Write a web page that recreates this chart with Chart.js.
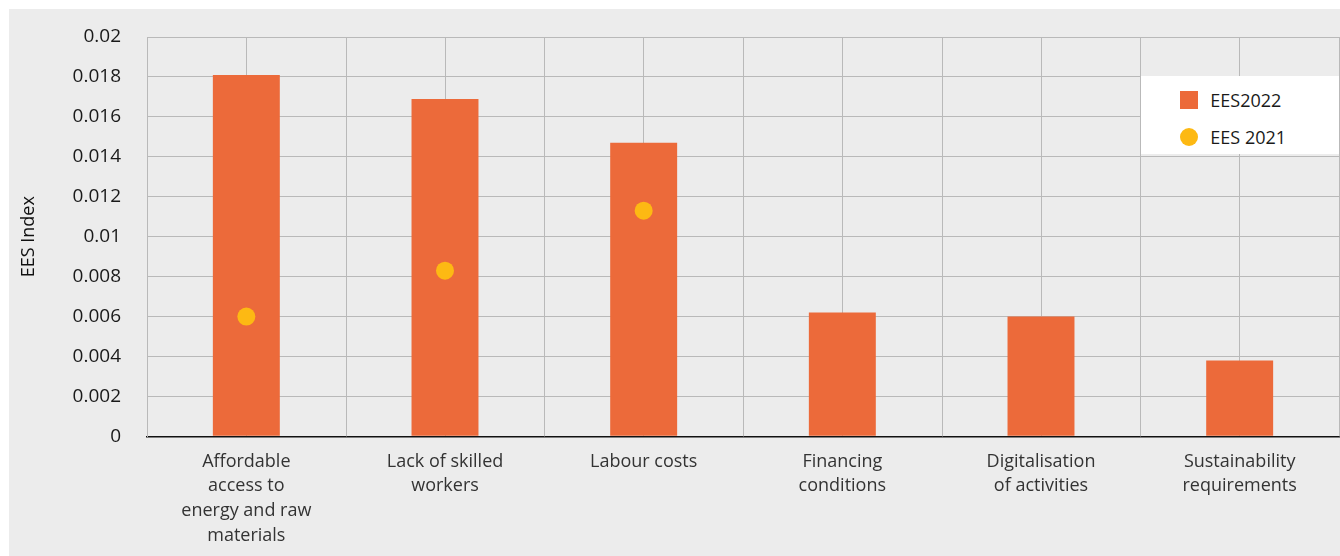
<!DOCTYPE html>
<html>
<head>
<meta charset="utf-8">
<script src="https://cdn.jsdelivr.net/npm/chart.js@4/dist/chart.umd.min.js"></script>
<style>
  html, body { margin: 0; padding: 0; background: #fff; }
  body { width: 1340px; height: 556px; position: relative; overflow: hidden; font-family: "Open Sans", sans-serif; }
  #wrap { position: absolute; left: 9px; top: 9px; width: 1339px; height: 547px; background: #ececec; }
  #legend { position: absolute; background: #fff; font-size: 18px; color: #1a1a1a; }
  .item { position: absolute; display: flex; align-items: center; white-space: nowrap; }
  .sw { width: 18px; height: 18px; margin-right: 12px; }
</style>
</head>
<body>
<div id="wrap"><canvas id="chart"></canvas></div>
<div id="legend"></div>
<script>
// categories (multi-line tick labels)
const categories = [
  ["Affordable", "access to", "energy and raw", "materials"],
  ["Lack of skilled", "workers"],
  ["Labour costs"],
  ["Financing", "conditions"],
  ["Digitalisation", "of activities"],
  ["Sustainability", "requirements"]
];
const ees2022 = [0.0181, 0.0169, 0.0147, 0.0062, 0.0060, 0.0038];
const ees2021 = [0.0060, 0.0083, 0.0113, null, null, null];
const yTickLabels = ["0", "0.002", "0.004", "0.006", "0.008", "0.01", "0.012", "0.014", "0.016", "0.018", "0.02"];

const BAR_COLOR = "#ec6a3a";
const DOT_COLOR = "#fdb913";
const GRID = "#b9b9b9";

// grid lines at category boundaries, in addition to the ones at the centres
const boundaryGrid = {
  id: "boundaryGrid",
  beforeDatasetsDraw(chart) {
    const x = chart.scales.x, area = chart.chartArea, ctx = chart.ctx;
    const n = chart.data.labels.length;
    const half = (x.getPixelForValue(1) - x.getPixelForValue(0)) / 2;
    ctx.save();
    ctx.strokeStyle = GRID;
    ctx.lineWidth = 1;
    for (let i = 0; i <= n; i++) {
      const px = Math.round(x.getPixelForValue(0) - half + i * half * 2) + 0.5;
      ctx.beginPath();
      ctx.moveTo(px, area.top);
      ctx.lineTo(px, area.bottom);
      ctx.stroke();
    }
    ctx.restore();
  }
};

const chart = new Chart(document.getElementById("chart"), {
  type: "bar",
  data: {
    labels: categories,
    datasets: [
      { type: "line", label: "EES 2021", data: ees2021, showLine: false, pointRadius: 9, pointHoverRadius: 9,
        pointBackgroundColor: DOT_COLOR, pointBorderWidth: 0, borderColor: DOT_COLOR, order: 0 },
      { label: "EES2022", data: ees2022, backgroundColor: BAR_COLOR, categoryPercentage: 1, barPercentage: 0.337, order: 1 }
    ]
  },
  options: {
    responsive: true,
    maintainAspectRatio: false,
    animation: false,
    layout: { padding: { top: 28, right: 1, bottom: 8, left: 0 } },
    plugins: { legend: { display: false }, tooltip: { enabled: false } },
    scales: {
      x: {
        grid: { offset: false, color: GRID, tickLength: 13, tickColor: "rgba(0,0,0,0)" },
        border: { color: "#111", width: 1.5 },
        ticks: { color: "#333", font: { family: "Open Sans", size: 18, lineHeight: 1.37 }, padding: 0, maxRotation: 0, autoSkip: false }
      },
      y: {
        min: 0, max: 0.02,
        afterFit(scale) { scale.width = 138; },
        grid: { color: GRID, tickLength: 26, tickColor: "rgba(0,0,0,0)" },
        border: { color: GRID },
        title: { display: true, text: "EES Index", color: "#111", font: { family: "Open Sans", size: 18 }, padding: { top: 9, bottom: 0 } },
        ticks: {
          stepSize: 0.002, padding: 0, color: "#1a1a1a",
          font: { family: "Open Sans", size: 19 },
          callback: (v, i) => yTickLabels[i]
        }
      }
    }
  },
  plugins: [boundaryGrid]
});

// HTML legend, placed at the top-right of the plot area
const legend = document.getElementById("legend");
const area = chart.chartArea;
const xs = chart.scales.x;
const half = (xs.getPixelForValue(1) - xs.getPixelForValue(0)) / 2;
const left = 9 + xs.getPixelForValue(5) - half + 1;
legend.style.left = left + "px";
legend.style.top = (10 + chart.scales.y.getPixelForValue(0.0181)) + "px";
legend.style.width = (9 + area.right - left) + "px";
legend.style.height = "78px";
const items = [
  { label: chart.data.datasets[1].label, color: BAR_COLOR, round: false },
  { label: chart.data.datasets[0].label, color: DOT_COLOR, round: true }
];
items.forEach((it, i) => {
  const d = document.createElement("div");
  d.className = "item";
  d.style.left = "39px";
  d.style.top = (12 + i * 37) + "px";
  const sw = document.createElement("span");
  sw.className = "sw";
  sw.style.background = it.color;
  if (it.round) sw.style.borderRadius = "50%";
  const t = document.createElement("span");
  t.textContent = it.label;
  d.appendChild(sw);
  d.appendChild(t);
  legend.appendChild(d);
});
</script>
</body>
</html>
